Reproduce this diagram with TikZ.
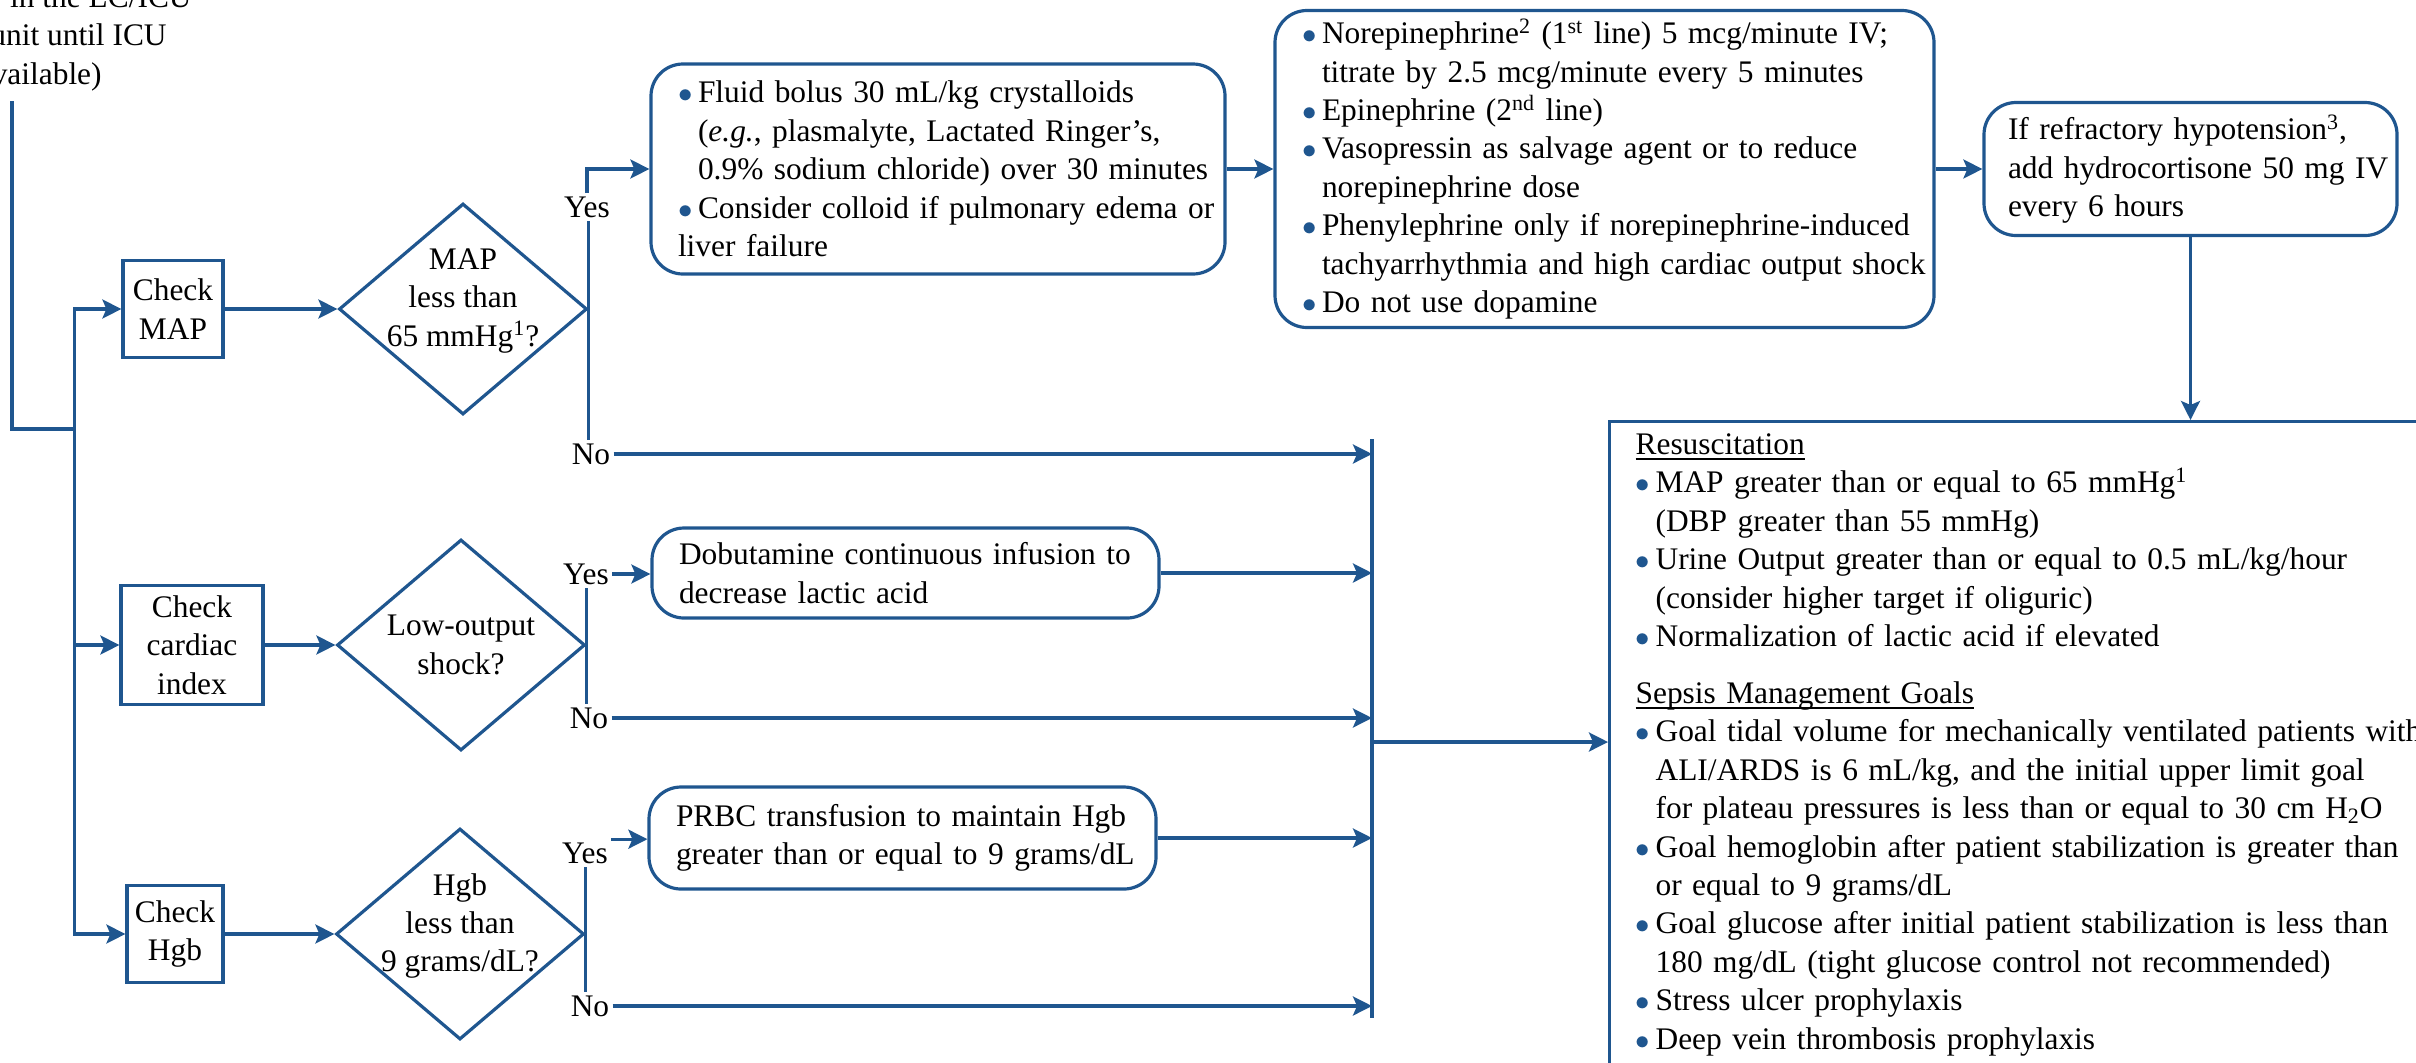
\documentclass[tikz,border=0pt]{standalone}
\usepackage{fontspec}
\setmainfont{Liberation Serif}
\usetikzlibrary{shapes.geometric,arrows.meta}
\definecolor{sepblue}{RGB}{31,86,143}
\newcommand{\bltx}{\hangindent=10pt\hangafter=1\makebox[10pt][l]{\textcolor{sepblue}{\fontsize{13.5}{13.5}\selectfont$\bullet$}}}
\newcommand{\blt}{\par\noindent\bltx}
\newcommand{\hdr}[1]{\leavevmode\setbox0\hbox{#1}\rlap{\rule[-2.6pt]{\wd0}{0.8pt}}\box0}

\begin{document}
\begin{tikzpicture}[x=0.5pt,y=0.5pt,yscale=-1,xscale=1,
  font=\fontsize{15.7}{19.2}\selectfont,
  flow/.style={draw=sepblue,line width=1.6pt},
  arr/.style={flow,-{Stealth[length=9.5pt,width=9.5pt,inset=2pt]}},
  chkbox/.style={flow,rectangle,align=center,inner sep=0pt},
  decide/.style={flow,diamond,inner sep=0pt,minimum width=124pt,minimum height=105.5pt},
  rbox/.style={flow,rounded corners=16pt,inner xsep=0pt,align=left,execute at begin node={\leftskip=13.5pt}},
  lbl/.style={inner sep=1.5pt}]
\useasboundingbox (0,0) rectangle (2416,1062);
\clip (0,0) rectangle (2416,1062);

% Text Node
\node[anchor=base east,inner sep=0pt] (intro1) at (192,7) {in the LC/ICU};
% Text Node
\node[anchor=base east,inner sep=0pt] (intro2) at (167,45.5) {unit until ICU};
% Text Node
\node[anchor=base east,inner sep=0pt] (intro3) at (102,84) {available)};
\coordinate (start) at (12,101);
\coordinate (split) at (74.5,429);

%Shape: Rectangle [check boxes]
\node[chkbox,minimum width=50pt,minimum height=48.5pt] (chkmap) at (173,309) {Check\\MAP};
\node[chkbox,minimum width=71pt,minimum height=59.5pt] (chkci) at (192,645) {Check\\cardiac\\index};
\node[chkbox,minimum width=48pt,minimum height=48.5pt] (chkhgb) at (175,934) {Check\\Hgb};

%Shape: Diamond [decisions]
\node[decide] (dmap) at (463,309) {};
\node[align=center] (tmap) at (463,301) {MAP\\less than\\65 mmHg\textsuperscript{1}?};
\node[decide] (dlow) at (461,645) {};
\node[align=center] (tlow) at (461,645) {Low-output\\shock?};
\node[decide] (dhgb) at (460,934) {};
\node[align=center] (thgb) at (460,926) {Hgb\\less than\\9 grams/dL?};

% Text Node [yes / no]
\node[lbl] (ymap) at (587,207) {Yes};
\node[lbl] (nmap) at (591,454) {No};
\node[lbl] (ylow) at (586,574) {Yes};
\node[lbl] (nlow) at (589,718) {No};
\node[lbl] (yhgb) at (585,853) {Yes};
\node[lbl] (nhgb) at (590,1006) {No};

%Shape: Rounded Rect [treatments]
\node[rbox,text width=287pt,minimum height=105pt] (fluid) at (938,169) {\bltx Fluid bolus 30 mL/kg crystalloids\newline (\textit{e.g.}, plasmalyte, Lactated Ringer's,\newline 0.9\% sodium chloride) over 30 minutes\blt Consider colloid if pulmonary edema or\newline liver failure};
\node[rbox,text width=329.5pt,minimum height=158.5pt] (nor) at (1604.5,169) {\bltx Norepinephrine\textsuperscript{2} (1\textsuperscript{st} line) 5 mcg/minute IV;\newline titrate by 2.5 mcg/minute every 5 minutes\blt Epinephrine (2\textsuperscript{nd} line)\blt Vasopressin as salvage agent or to reduce\newline norepinephrine dose\blt Phenylephrine only if norepinephrine-induced\newline tachyarrhythmia and high cardiac output shock\blt Do not use dopamine};
\node[rbox,text width=206.5pt,minimum height=66.5pt,execute at begin node={\leftskip=12pt}] (refr) at (2190.5,169) {If refractory hypotension\textsuperscript{3},\\add hydrocortisone 50 mg IV\\every 6 hours};
\node[rbox,text width=253.5pt,minimum height=45pt] (dobut) at (905.5,573) {Dobutamine continuous infusion to\\decrease lactic acid};
\node[rbox,text width=253.5pt,minimum height=51pt] (prbc) at (902.5,838) {PRBC transfusion to maintain Hgb\\greater than or equal to 9 grams/dL};

%Shape: Rectangle [goals]
\node[flow,anchor=north west,inner xsep=0pt,inner ysep=6pt,text width=620pt,align=left,execute at begin node={\leftskip=13pt}] (big) at (1608,420) {\hdr{Resuscitation}\blt MAP greater than or equal to 65 mmHg\textsuperscript{1}\newline (DBP greater than 55 mmHg)\blt Urine Output greater than or equal to 0.5 mL/kg/hour\newline (consider higher target if oliguric)\blt Normalization of lactic acid if elevated\par\vspace{9.3pt}\noindent\hdr{Sepsis Management Goals}\blt Goal tidal volume for mechanically ventilated patients with\newline ALI/ARDS is 6 mL/kg, and the initial upper limit goal\newline for plateau pressures is less than or equal to 30 cm H\textsubscript{2}O\blt Goal hemoglobin after patient stabilization is greater than\newline or equal to 9 grams/dL\blt Goal glucose after initial patient stabilization is less than\newline 180 mg/dL (tight glucose control not recommended)\blt Stress ulcer prophylaxis\blt Deep vein thrombosis prophylaxis\par\rule{0pt}{40pt}};

\coordinate (ctop) at (1372,439);
\coordinate (cbot) at (1372,1018);
\coordinate (cmid) at (1372,742);

%Straight Lines
\draw[flow] (start) |- (split);
\draw[arr] (split) |- (chkmap.west);
\draw[arr] (split) |- (chkci.west);
\draw[arr] (split) |- (chkhgb.west);
\draw[arr] (chkmap.east) -- (dmap.west);
\draw[arr] (chkci.east) -- (dlow.west);
\draw[arr] (chkhgb.east) -- (dhgb.west);
%Straight Lines
\draw[flow] (dmap.east) -- (dmap.east |- ymap.south);
\draw[arr] (ymap.north) |- (fluid.west);
\draw[flow] (dmap.east) -- (dmap.east |- nmap.north);
\draw[arr] (nmap.east) -- (nmap.east -| ctop);
\draw[flow] (dlow.east) -- (dlow.east |- ylow.south);
\draw[arr] (ylow.east) -- (ylow.east -| dobut.west);
\draw[flow] (dlow.east) -- (dlow.east |- nlow.north);
\draw[arr] (nlow.east) -- (nlow.east -| ctop);
\draw[flow] (dhgb.east) -- (dhgb.east |- yhgb.south);
\draw[arr] (yhgb.north east) -- (yhgb.north east -| prbc.west);
\draw[flow] (dhgb.east) -- (dhgb.east |- nhgb.north);
\draw[arr] (nhgb.east) -- (nhgb.east -| ctop);
%Straight Lines
\draw[arr] (fluid.east) -- (nor.west);
\draw[arr] (nor.east) -- (refr.west);
\draw[arr] (refr.south) -- (refr.south |- big.north);
\draw[arr] (dobut.east) -- (dobut.east -| ctop);
\draw[arr] (prbc.east) -- (prbc.east -| ctop);
\draw[flow] (ctop) -- (cbot);
\draw[arr] (cmid) -- (cmid -| big.west);

\end{tikzpicture}
\end{document}
